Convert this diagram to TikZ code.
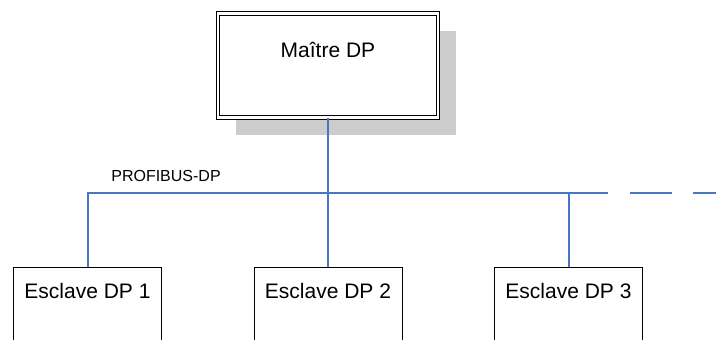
\documentclass[tikz,border=0pt]{standalone}
\usepackage{fontspec}
\setmainfont{Liberation Sans}
\usetikzlibrary{shadows}

\definecolor{busblue}{RGB}{72,118,196}

\begin{document}
\begin{tikzpicture}[x = 1pt, y = -1pt, font = \fontsize{21}{25}\selectfont]
        \clip (0,0) rectangle (716,340);

        \tikzset{
            master/.style = {draw, double, double distance = 2.4pt, line width = 0.9pt, fill = white,
                minimum width = 220pt, inner xsep = 0pt, inner ysep = 0pt,
                text height = 44pt, text depth = 60pt,
                drop shadow = {shadow xshift = 18pt, shadow yshift = -18pt, fill = gray!40, opacity = 1}},
            slave/.style = {draw, line width = 0.9pt, anchor = north, minimum width = 148pt,
                inner ysep = 9pt, text height = 22pt, text depth = 60pt},
            bus/.style = {draw = busblue, line width = 2pt}
        }

        \node [master, anchor = north] (master) at (328,13) {Maître DP};

        \node [slave] (slave1) at (87.5,267) {Esclave DP 1};
        \node [slave] (slave2) at (328,267) {Esclave DP 2};
        \node [slave] (slave3) at (568.5,267) {Esclave DP 3};

        \coordinate (busend) at (608,193);
        \coordinate (dashA) at (630,193);
        \coordinate (dashB) at (672,193);
        \coordinate (dashC) at (693,193);
        \coordinate (busout) at (720,193);

        \draw [bus] (slave1.north) |- (busend);
        \draw [bus] (master.south) -- (slave2.north);
        \draw [bus] (slave3.north) -- (slave3.north |- busend);
        \draw [bus] (dashA) -- (dashB);
        \draw [bus] (dashC) -- (busout);

        \node [font = \fontsize{16}{19}\selectfont, anchor = base] (busname) at (166,181) {PROFIBUS-DP};
    \end{tikzpicture}
\end{document}
